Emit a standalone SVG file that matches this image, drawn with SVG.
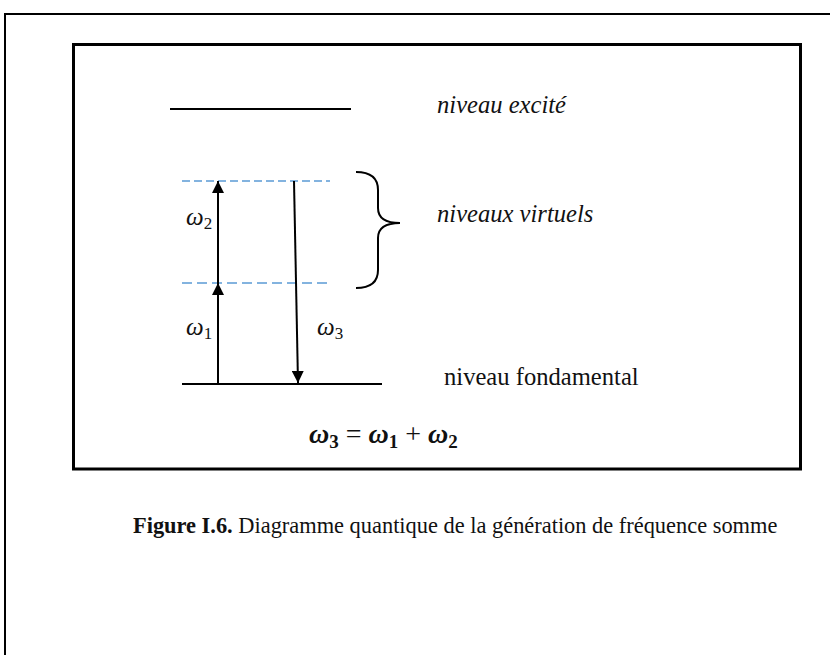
<svg xmlns="http://www.w3.org/2000/svg" width="830" height="655" viewBox="0 0 830 655">
  <style>
    .frame { fill: none; stroke: #000; stroke-width: 2; }
    .box { fill: none; stroke: #000; stroke-width: 3; }
    .level { stroke: #000; stroke-width: 2; }
    .virtual { stroke: #5b9bd5; stroke-width: 1.4; }
    .arrow { stroke: #000; stroke-width: 2; fill: none; }
    .label { font-family: "Liberation Serif", "Times New Roman", serif; font-size: 24.6px; fill: #111; }
    .it { font-style: italic; }
    .omega { font-family: "Liberation Serif", "Times New Roman", serif; font-style: italic; font-size: 25px; fill: #111; }
    .eq { font-family: "Liberation Serif", "Times New Roman", serif; font-size: 28px; fill: #111; }
    .caption { font-family: "Liberation Serif", "Times New Roman", serif; font-size: 22.4px; fill: #111; }
  </style>
  <defs>
    <marker id="head" viewBox="0 0 10 10" refX="10" refY="5" markerWidth="6" markerHeight="6" orient="auto">
      <path d="M0,0 L10,5 L0,10 z" fill="#000"/>
    </marker>
  </defs>

  <rect width="830" height="655" fill="#fff"/>

  <!-- page frame (open on the right and bottom) -->
  <path class="frame" d="M5,655 L5,14 L830,14"/>

  <!-- diagram box -->
  <rect class="box" x="73.5" y="44.5" width="727" height="424.5"/>

  <!-- energy levels -->
  <g id="level-excited">
    <line class="level" x1="170" y1="109" x2="351" y2="109"/>
    <text class="label it" x="437" y="113">niveau excité</text>
  </g>
  <g id="level-virtual-2">
    <line class="virtual" x1="182" y1="181" x2="330" y2="181" stroke-dasharray="8 4"/>
  </g>
  <g id="level-virtual-1">
    <line class="virtual" x1="182" y1="283" x2="330" y2="283" stroke-width="1.8" stroke-dasharray="10 5"/>
  </g>
  <g id="level-ground">
    <line class="level" x1="182" y1="384" x2="382" y2="384"/>
    <text class="label" x="444" y="385">niveau fondamental</text>
  </g>
  <g id="virtual-brace">
    <path class="arrow" stroke-width="1.5" d="M356,172 Q378,172 378,190 L378,208 Q378,223 400,223 Q378,223 378,238 L378,270 Q378,288 356,288"/>
    <text class="label it" x="437" y="222">niveaux virtuels</text>
  </g>

  <!-- transitions -->
  <g id="transitions">
    <line class="arrow" x1="218" y1="384" x2="218" y2="283" marker-end="url(#head)"/>
    <line class="arrow" x1="218" y1="283" x2="218" y2="181" marker-end="url(#head)"/>
    <line class="arrow" x1="294" y1="181" x2="298" y2="383" marker-end="url(#head)"/>
  </g>

  <g id="omega-labels">
    <text class="omega" x="186" y="225">ω<tspan font-style="normal" font-size="17" dy="4">2</tspan></text>
    <text class="omega" x="186" y="335">ω<tspan font-style="normal" font-size="17" dy="4">1</tspan></text>
    <text class="omega" x="317" y="335">ω<tspan font-style="normal" font-size="17" dy="4">3</tspan></text>
  </g>

  <!-- energy conservation -->
  <g id="equation">
    <text class="eq" x="309" y="443"><tspan font-weight="bold" font-style="italic">ω</tspan><tspan font-weight="bold" font-size="19" dy="5">3</tspan><tspan dy="-5"> = </tspan><tspan font-weight="bold" font-style="italic">ω</tspan><tspan font-weight="bold" font-size="19" dy="5">1</tspan><tspan dy="-5"> + </tspan><tspan font-weight="bold" font-style="italic">ω</tspan><tspan font-weight="bold" font-size="19" dy="5">2</tspan></text>
  </g>

  <text class="caption" x="133" y="533"><tspan font-weight="bold">Figure I.6.</tspan> Diagramme quantique de la génération de fréquence somme</text>
</svg>
